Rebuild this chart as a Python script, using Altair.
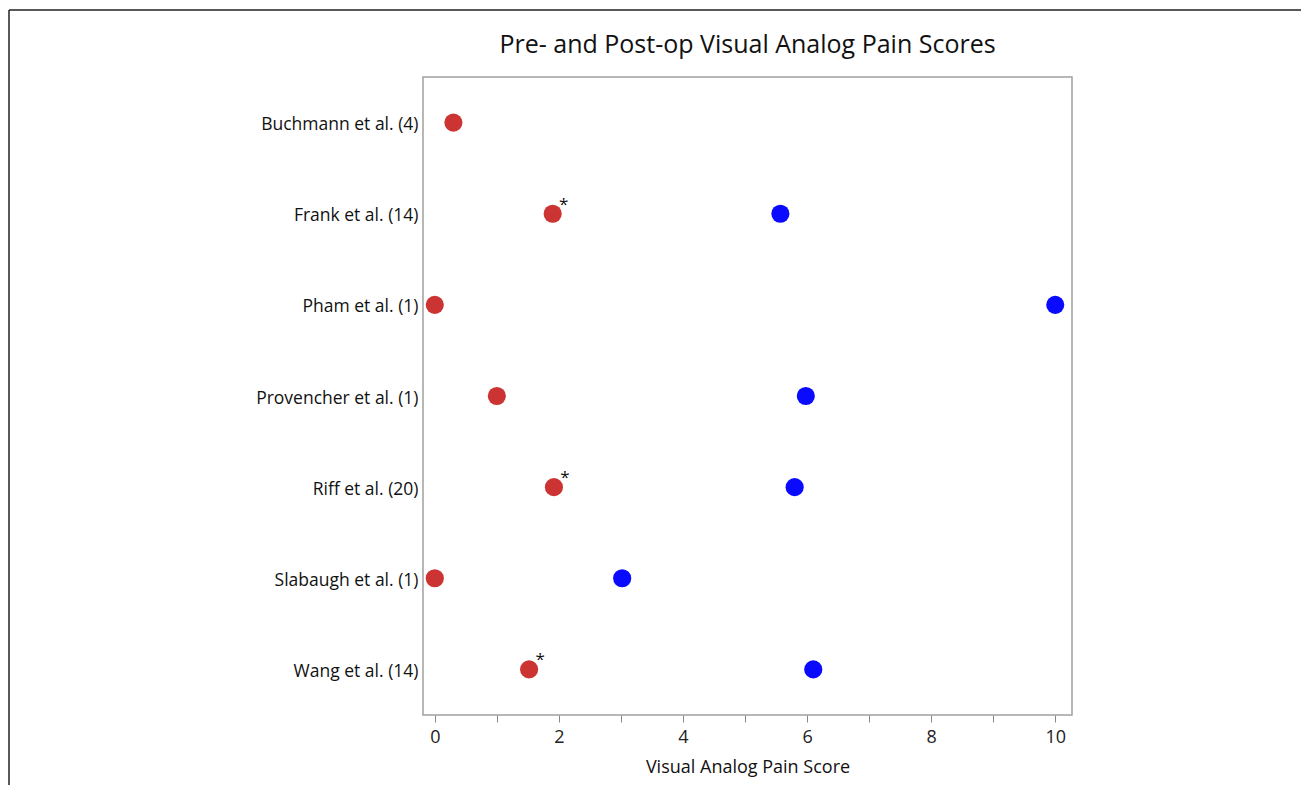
import altair as alt
import pandas as pd

studies = ["Buchmann et al. (4)", "Frank et al. (14)", "Pham et al. (1)",
           "Provencher et al. (1)", "Riff et al. (20)", "Slabaugh et al. (1)",
           "Wang et al. (14)"]
post_op = [0.3, 1.9, 0.0, 1.0, 1.92, 0.0, 1.52]
pre_op = [None, 5.57, 10.0, 5.98, 5.8, 3.02, 6.1]
significant = [False, True, False, False, True, False, True]
title_text = "Pre- and Post-op Visual Analog Pain Scores"

rows = []
for s, v, sig in zip(studies, post_op, significant):
    rows.append({"study": s, "score": v, "phase": "Post-op", "sig": "*" if sig else ""})
for s, v in zip(studies, pre_op):
    if v is not None:
        rows.append({"study": s, "score": v, "phase": "Pre-op", "sig": ""})
df = pd.DataFrame(rows)

FONT = "Open Sans"

x = alt.X("score:Q",
          scale=alt.Scale(domain=[-0.19, 10.27], nice=False, zero=False),
          axis=alt.Axis(title="Visual Analog Pain Score", values=list(range(0, 11)),
                        labelExpr="datum.value % 2 == 0 ? datum.label : ''",
                        grid=False, domain=False, tickColor="#888888", tickSize=7,
                        labelFontSize=18, labelColor="#222222", labelFont=FONT,
                        titleFontSize=18, titleFont=FONT, titleFontWeight="normal",
                        titleColor="#111111", labelPadding=6, titlePadding=12))
y = alt.Y("study:N", sort=studies,
          scale=alt.Scale(paddingInner=0, paddingOuter=0.5),
          axis=alt.Axis(title=None, ticks=False, domain=False, grid=False,
                        labelFontSize=17.5, labelFont=FONT, labelColor="#111111",
                        labelPadding=5, labelOffset=2))

points = alt.Chart(df).mark_circle(size=330, opacity=1).encode(
    x=x, y=y,
    color=alt.Color("phase:N", scale=alt.Scale(domain=["Post-op", "Pre-op"],
                                               range=["#cc3333", "#0a0aff"]),
                    legend=None),
)

stars = alt.Chart(df[df["sig"] == "*"]).mark_text(
    dx=11, dy=-9, fontSize=17, font=FONT, color="#111111"
).encode(x=x, y=y, text="sig:N")

title = alt.Chart(pd.DataFrame({"t": [title_text]})).mark_text(
    fontSize=25, font=FONT, color="#111111", align="center", baseline="middle"
).encode(x=alt.value(324.5), y=alt.value(-32), text="t:N")

border_top = alt.Chart(df.head(1)).mark_rule(color="#222222", strokeWidth=1.5).encode(
    x=alt.value(-414), x2=alt.value(900), y=alt.value(-67))
border_left = alt.Chart(df.head(1)).mark_rule(color="#222222", strokeWidth=1.5).encode(
    x=alt.value(-414), y=alt.value(-67), y2=alt.value(720))

chart = alt.layer(points, stars, title, border_top, border_left).properties(
    width=649, height=638,
    autosize=alt.AutoSizeParams(type="none"),
    padding={"left": 415, "top": 69, "right": 229, "bottom": 70},
).configure_view(stroke="#a0a0a0", strokeWidth=1.5)

chart.save("out.html", embed_options={"renderer": "svg", "actions": False})
